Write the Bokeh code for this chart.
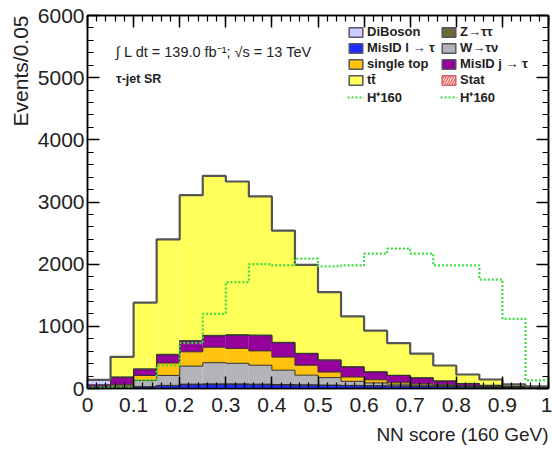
import numpy as np
from bokeh.plotting import figure
from bokeh.models import (Range1d, LinearAxis, FixedTicker, Label, Legend,
                          LegendItem, ColumnDataSource, Title)
from bokeh.embed import file_html
from bokeh.resources import INLINE

# ---------------- data ----------------
bin_edges = [0.0, 0.05, 0.1, 0.15, 0.2, 0.25, 0.3, 0.35, 0.4, 0.45, 0.5,
             0.55, 0.6, 0.65, 0.7, 0.75, 0.8, 0.85, 0.9, 0.95, 1.0]

misid_l = [20, 20, 25, 45, 60, 65, 65, 60, 55, 52, 49, 45, 41, 37, 33, 28, 24, 19, 14, 10]
z_tautau = [0, 0, 5, 5, 10, 10, 10, 10, 10, 8, 6, 5, 4, 3, 2, 2, 1, 1, 1, 0]
w_taunu = [0, 20, 100, 160, 290, 340, 330, 305, 230, 155, 120, 65, 45, 30, 20, 15, 10, 8, 5, 2]
single_top = [0, 20, 80, 200, 230, 250, 240, 230, 210, 160, 90, 70, 50, 30, 20, 15, 10, 7, 5, 3]
misid_j = [40, 120, 100, 130, 170, 180, 210, 245, 230, 185, 190, 160, 125, 110, 95, 60, 35, 15, 10, 5]
diboson = [80, 5, 5, 10, 10, 10, 10, 10, 8, 6, 5, 4, 3, 2, 2, 1, 1, 1, 0, 0]
ttbar = [0, 325, 1065, 1850, 2340, 2565, 2465, 2230, 1797, 1424, 1090, 811, 662, 518, 388, 249, 144, 94, 30, 15]

signal_h160 = [20, 20, 130, 370, 730, 1200, 1710, 2000, 1980, 2090,
               1965, 1980, 2170, 2250, 2170, 1980, 1980, 1750, 1120, 130]

x_ticks = [0, 0.1, 0.2, 0.3, 0.4, 0.5, 0.6, 0.7, 0.8, 0.9, 1]
x_tick_labels = ["0", "0.1", "0.2", "0.3", "0.4", "0.5", "0.6", "0.7", "0.8", "0.9", "1"]
y_ticks = [0, 1000, 2000, 3000, 4000, 5000, 6000]

# ---------------- styles ----------------
FONT = "Liberation Sans"
col = {
    "DiBoson": "#ccccff",
    "MisID l → τ": "#1f2bff",
    "single top": "#ffc20e",
    "tt̄": "#ffff5a",
    "Z→ττ": "#6b6b33",
    "W→τν": "#b4b4b8",
    "MisID j → τ": "#96009b",
}
green = "#3fdc3f"

stack = [("MisID l → τ", misid_l), ("Z→ττ", z_tautau), ("W→τν", w_taunu),
         ("single top", single_top), ("MisID j → τ", misid_j),
         ("DiBoson", diboson), ("tt̄", ttbar)]

p = figure(width=552, height=455, x_range=Range1d(0, 1), y_range=Range1d(0, 6000),
           output_backend="svg", toolbar_location=None,
           min_border_left=87, min_border_right=4, min_border_top=15, min_border_bottom=67)
p.xgrid.visible = False
p.ygrid.visible = False
p.outline_line_color = "black"
p.outline_line_width = 1.5
p.background_fill_color = "white"
p.border_fill_color = "white"

left = np.array(bin_edges[:-1])
right = np.array(bin_edges[1:])
base = np.zeros(len(left))
tops = []
for name, vals in stack:
    top = base + np.array(vals, dtype=float)
    src = ColumnDataSource(dict(left=left, right=right, bottom=base, top=top))
    p.quad(left="left", right="right", bottom="bottom", top="top", source=src,
           fill_color=col[name], line_color=None)
    tops.append(top)
    base = top

xs_step = list(bin_edges)
for i, top in enumerate(tops):
    ys = list(top) + [top[-1]]
    last = i == len(tops) - 1
    p.step(x=xs_step, y=ys, mode="after",
           line_color="#555555" if last else "#303030",
           line_width=2.2 if last else 1)

sig_y = list(signal_h160) + [signal_h160[-1]]
p.step(x=xs_step, y=sig_y, mode="after", line_color=green, line_width=2.2, line_dash="2 2")

# ---------------- axes ----------------
minor_x = [round(0.02 * i, 2) for i in range(51)]
minor_y = list(range(0, 6001, 200))

def style_axis(ax, labels=True):
    ax.major_tick_in = 12
    ax.major_tick_out = 0
    ax.minor_tick_in = 6
    ax.minor_tick_out = 0
    ax.axis_line_color = "black"
    ax.axis_line_width = 1.5
    ax.major_tick_line_color = "black"
    ax.major_tick_line_width = 1.5
    ax.minor_tick_line_color = "black"
    ax.minor_tick_line_width = 1.2
    if labels:
        ax.major_label_text_font = FONT
        ax.major_label_text_font_size = "21px"
        ax.major_label_text_color = "#222222"
    else:
        ax.major_label_text_color = None
        ax.major_label_standoff = 0

xt = FixedTicker(ticks=x_ticks, minor_ticks=minor_x)
yt = FixedTicker(ticks=y_ticks, minor_ticks=minor_y)

p.xaxis.ticker = xt
p.yaxis.ticker = yt
p.xaxis.major_label_overrides = dict(zip(x_ticks, x_tick_labels))
p.yaxis.formatter.use_scientific = False
style_axis(p.xaxis[0])
style_axis(p.yaxis[0])
p.xaxis.major_label_standoff = 9
p.yaxis.major_label_standoff = 3

top_ax = LinearAxis(ticker=FixedTicker(ticks=x_ticks, minor_ticks=minor_x))
style_axis(top_ax, labels=False)
p.add_layout(top_ax, "above")
right_ax = LinearAxis(ticker=FixedTicker(ticks=y_ticks, minor_ticks=minor_y))
style_axis(right_ax, labels=False)
p.add_layout(right_ax, "right")

# axis titles as layout titles (right/top aligned like ROOT)
p.add_layout(Title(text="Events/0.05", align="right", text_font=FONT,
                   text_font_size="21px", text_font_style="normal",
                   text_color="#222222", standoff=6, offset=0), "left")
p.add_layout(Title(text="NN score (160 GeV)", align="right", text_font=FONT,
                   text_font_size="19px", text_font_style="normal",
                   text_color="#222222", standoff=14, offset=0), "below")

p.add_layout(Label(x=0.062, y=5405,
                   text="∫ L dt = 139.0 fb⁻¹;  √s = 13 TeV", text_baseline="middle",
                   text_font=FONT, text_font_size="14.5px", text_color="#222222"))
p.add_layout(Label(x=0.062, y=4985,
                   text="τ-jet SR", text_baseline="middle", text_font_style="bold",
                   text_font=FONT, text_font_size="12.5px", text_color="#222222"))

# ---------------- legend ----------------
nan = [np.nan]

def box(name):
    return p.quad(left=nan, right=nan, top=nan, bottom=nan, fill_color=col[name],
                  line_color="#555566", line_width=1.5)

r_dib = box("DiBoson")
r_ml = box("MisID l → τ")
r_st = box("single top")
r_tt = box("tt̄")
r_z = box("Z→ττ")
r_w = box("W→τν")
r_mj = box("MisID j → τ")
r_stat = p.quad(left=nan, right=nan, top=nan, bottom=nan, fill_color="#fff0f0",
                hatch_pattern="right_diagonal_line", hatch_color="#ee7070",
                hatch_scale=5, hatch_weight=1.5, line_color="#cc6666", line_width=1.5)
r_sig1 = p.line(x=nan, y=nan, line_color=green, line_width=2.2, line_dash="2 2")
r_sig2 = p.line(x=nan, y=nan, line_color=green, line_width=2.2, line_dash="2 2")

def make_legend(items, loc):
    lg = Legend(items=[LegendItem(label=t, renderers=[r]) for t, r in items],
                location=loc, padding=0, margin=0, spacing=1,
                glyph_width=17, glyph_height=12, label_height=13, label_standoff=3,
                label_text_font=FONT, label_text_font_style="bold",
                label_text_font_size="13px", label_text_color="#222222",
                border_line_color=None, background_fill_alpha=0)
    p.add_layout(lg)

make_legend([("DiBoson", r_dib), ("MisID l → τ", r_ml), ("single top", r_st),
             ("tt̄", r_tt), ("H⁺160", r_sig1)], (260, 282))
make_legend([("Z→ττ", r_z), ("W→τν", r_w), ("MisID j → τ", r_mj),
             ("Stat", r_stat), ("H⁺160", r_sig2)], (353, 282))

open("out.html", "w").write(file_html(p, INLINE))
